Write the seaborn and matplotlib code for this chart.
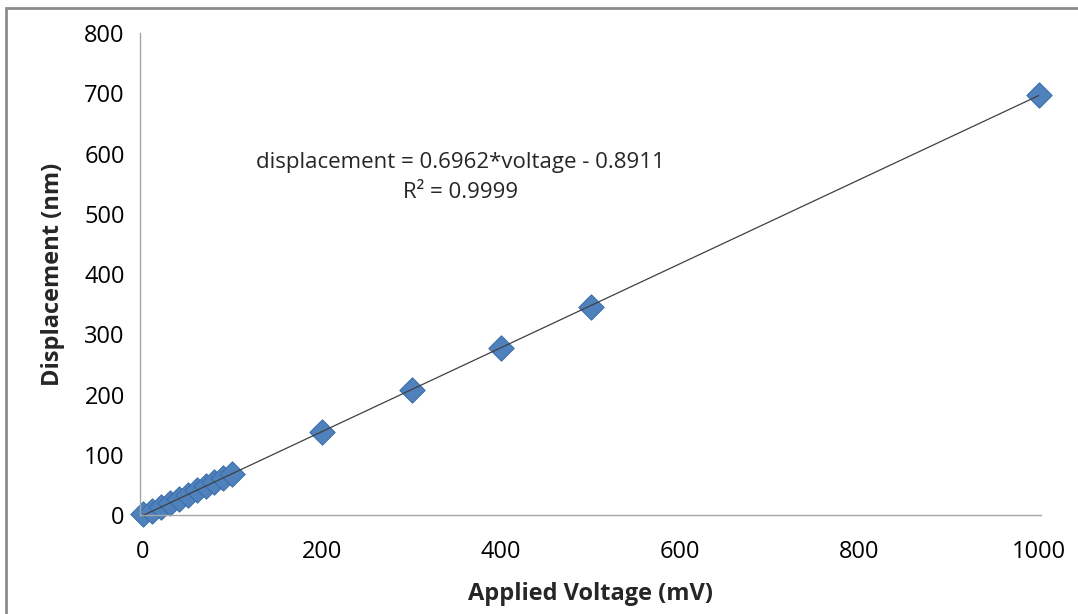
import numpy as np
import pandas as pd
import matplotlib
matplotlib.use("Agg")
import matplotlib.pyplot as plt
import seaborn as sns
from matplotlib.patches import Rectangle

voltage = [0, 10, 20, 30, 40, 50, 60, 70, 80, 90, 100, 200, 300, 400, 500, 1000]
displacement = [2, 7, 13, 20, 27, 34, 41, 48, 55, 62, 69, 138, 208, 277, 346, 698]
x_ticks = [0, 200, 400, 600, 800, 1000]
y_ticks = [0, 100, 200, 300, 400, 500, 600, 700, 800]
equation_text = "displacement = 0.6962*voltage - 0.8911\nR\u00b2 = 0.9999"

df = pd.DataFrame({"voltage": voltage, "displacement": displacement})

sns.set_style("white")
plt.rcParams["font.family"] = ["Open Sans", "DejaVu Sans"]

fig = plt.figure(figsize=(10.78, 6.14), dpi=100)
ax = fig.add_axes([0.130, 0.161, 0.836, 0.785])

sns.regplot(data=df, x="voltage", y="displacement", scatter=False, ci=None,
            truncate=True, ax=ax, line_kws=dict(color="#404040", lw=0.9, zorder=3))
sns.scatterplot(data=df, x="voltage", y="displacement", marker="D", s=165,
                color="#4F81BD", edgecolor="#3C6EAA", linewidth=0.8, ax=ax,
                zorder=2, clip_on=False)

ax.set_xlim(-3, 1003)
ax.set_ylim(0, 800)
ax.set_xticks(x_ticks)
ax.set_yticks(y_ticks)
ax.tick_params(axis="both", labelsize=17, colors="#000000", length=6, width=1,
               direction="out", color="#BFBFBF", pad=5)
ax.tick_params(axis="x", pad=12)
for s in ["top", "right"]:
    ax.spines[s].set_visible(False)
for s in ["left", "bottom"]:
    ax.spines[s].set_color("#A6A6A6")
    ax.spines[s].set_linewidth(1)

ax.set_xlabel("Applied Voltage (mV)", fontsize=17, fontweight="bold", labelpad=13)
ax.set_ylabel("Displacement (nm)", fontsize=17, fontweight="bold", labelpad=14)

ax.text(355, 560, equation_text, ha="center", va="center", fontsize=16,
        linespacing=1.55)

fig.patches.append(Rectangle((0.0055, -0.01), 1.2, 1.002 - 0.0055, transform=fig.transFigure,
                             fill=False, edgecolor="#8C8C8C", linewidth=2))

fig.savefig("out.png", dpi=100)
